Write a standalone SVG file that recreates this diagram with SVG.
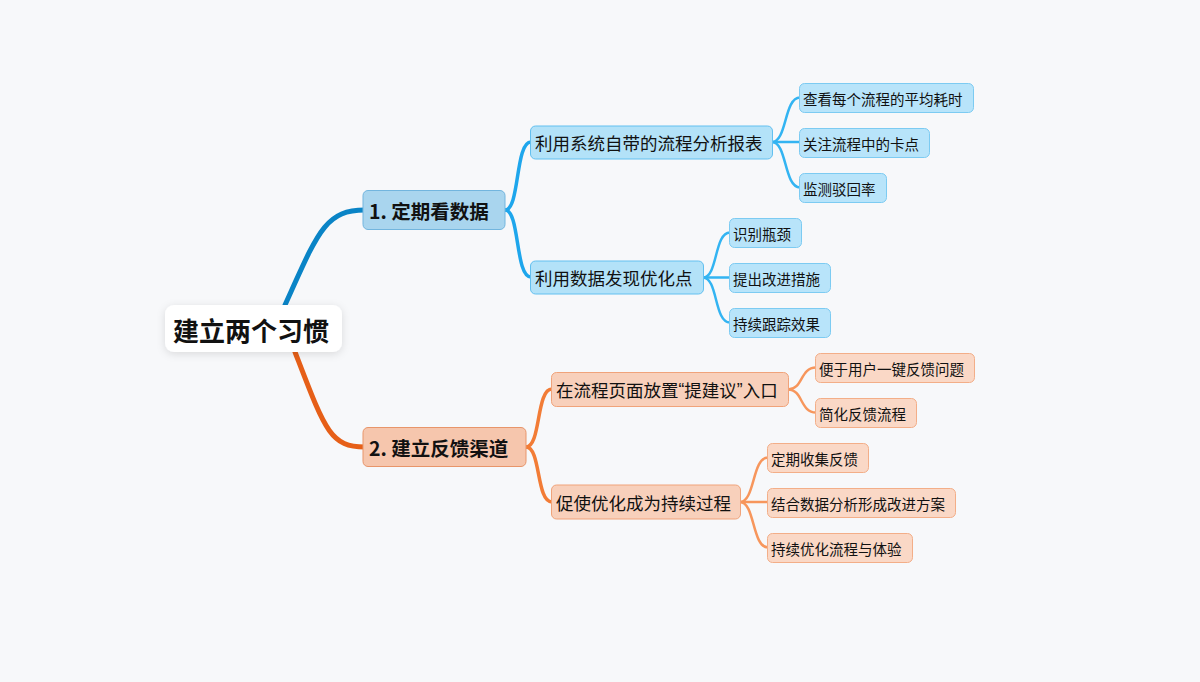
<svg xmlns="http://www.w3.org/2000/svg" width="1200" height="682" viewBox="0 0 1200 682">
<defs>
<filter id="shadow" x="-20%" y="-40%" width="140%" height="180%">
<feDropShadow dx="0" dy="2" stdDeviation="4" flood-color="#000" flood-opacity="0.12"/>
</filter>
<style>
text{font-family:"Noto Sans CJK SC","Noto Sans",sans-serif;fill:#111;dominant-baseline:central}
.q{font-family:"Liberation Sans",sans-serif}
.root text{font-size:26px;font-weight:bold}
.br text{font-size:19.5px;font-weight:bold}
.sub text{font-size:17.5px}
.leaf text{font-size:14.5px}
.b1 rect{fill:#a9d5ee;stroke:#72b5de;stroke-width:1}
.bs rect{fill:#b3e2f8;stroke:#62c0f0;stroke-width:1}
.bl rect{fill:#b8e4fa;stroke:#7ccbf2;stroke-width:1}
.o1 rect{fill:#f6c6ad;stroke:#e8956a;stroke-width:1}
.os rect{fill:#f8d0bb;stroke:#f0a37a;stroke-width:1}
.ol rect{fill:#fad8c6;stroke:#f3ae88;stroke-width:1}
.c path{fill:none;stroke-linecap:round}
.cb0{stroke:#0a84c6;stroke-width:5}
.cb1{stroke:#1ea6ec;stroke-width:3.5}
.cb2{stroke:#33b4f2;stroke-width:2.5}
.co0{stroke:#e65f18;stroke-width:5}
.co1{stroke:#f27c36;stroke-width:3.5}
.co2{stroke:#f7965c;stroke-width:2.5}
</style>
</defs>
<rect width="1200" height="682" fill="#f7f8fa"/>
<g id="connectors" class="c">
<path class="cb0" d="M285 305 C318 232 325 210 365 210"/>
<path class="co0" d="M295 352 C325 430 330 447 365 447"/>
<path class="cb1" d="M505 210 C520 210 515 142 531 142"/>
<path class="cb1" d="M505 210 C520 210 515 277 531 277"/>
<path class="co1" d="M526 447 C541 447 536 389 552 389"/>
<path class="co1" d="M526 447 C541 447 536 502 552 502"/>
<path class="cb2" d="M772 142 C787 142 784 97.5 800 97.5"/>
<path class="cb2" d="M772 142 L800 142"/>
<path class="cb2" d="M772 142 C787 142 784 187.5 800 187.5"/>
<path class="cb2" d="M703 277.5 C718 277.5 714 232.5 730 232.5"/>
<path class="cb2" d="M703 277.5 L730 277.5"/>
<path class="cb2" d="M703 277.5 C718 277.5 714 322.5 730 322.5"/>
<path class="co2" d="M788 389.5 C803 389.5 800 367.5 816 367.5"/>
<path class="co2" d="M788 389.5 C803 389.5 800 412.5 816 412.5"/>
<path class="co2" d="M740 502 C755 502 752 457.5 768 457.5"/>
<path class="co2" d="M740 502 L768 502"/>
<path class="co2" d="M740 502 C755 502 752 547.5 768 547.5"/>
</g>
<g id="root" class="root">
<rect x="165" y="305" width="177" height="47" rx="9" fill="#ffffff" filter="url(#shadow)"/>
<text x="173" y="329">建立两个习惯</text>
</g>
<g id="b1" class="br b1">
<rect x="363" y="190.5" width="142" height="39" rx="5"/>
<text x="369" y="210">1. 定期看数据</text>
</g>
<g id="b2" class="br o1">
<rect x="363" y="427.5" width="163" height="39" rx="5"/>
<text x="369" y="447">2. 建立反馈渠道</text>
</g>
<g id="a1" class="sub bs">
<rect x="530.5" y="126" width="242" height="33" rx="5"/>
<text x="535" y="142.5">利用系统自带的流程分析报表</text>
</g>
<g id="a2" class="sub bs">
<rect x="530.5" y="261" width="173" height="33" rx="5"/>
<text x="535" y="277.5">利用数据发现优化点</text>
</g>
<g id="a1l1" class="leaf bl">
<rect x="799.5" y="83.5" width="174" height="29" rx="5"/>
<text x="803" y="98">查看每个流程的平均耗时</text>
</g>
<g id="a1l2" class="leaf bl">
<rect x="799.5" y="128.5" width="130" height="29" rx="5"/>
<text x="803" y="143">关注流程中的卡点</text>
</g>
<g id="a1l3" class="leaf bl">
<rect x="799.5" y="173.5" width="87" height="29" rx="5"/>
<text x="803" y="188">监测驳回率</text>
</g>
<g id="a2l1" class="leaf bl">
<rect x="729.5" y="218.5" width="72" height="29" rx="5"/>
<text x="733" y="233">识别瓶颈</text>
</g>
<g id="a2l2" class="leaf bl">
<rect x="729.5" y="263.5" width="101" height="29" rx="5"/>
<text x="733" y="278">提出改进措施</text>
</g>
<g id="a2l3" class="leaf bl">
<rect x="729.5" y="308.5" width="101" height="29" rx="5"/>
<text x="733" y="323">持续跟踪效果</text>
</g>
<g id="bb1" class="sub os">
<rect x="551.5" y="372.5" width="237" height="34" rx="5"/>
<text x="556" y="389.5">在流程页面放置<tspan class="q">“</tspan>提建议<tspan class="q">”</tspan>入口</text>
</g>
<g id="bb2" class="sub os">
<rect x="551.5" y="485" width="189" height="34" rx="5"/>
<text x="556" y="502">促使优化成为持续过程</text>
</g>
<g id="b1l1" class="leaf ol">
<rect x="815.5" y="353.5" width="159" height="29" rx="5"/>
<text x="819" y="368">便于用户一键反馈问题</text>
</g>
<g id="b1l2" class="leaf ol">
<rect x="815.5" y="398.5" width="101" height="29" rx="5"/>
<text x="819" y="413">简化反馈流程</text>
</g>
<g id="b2l1" class="leaf ol">
<rect x="767.5" y="443.5" width="101" height="29" rx="5"/>
<text x="771" y="458">定期收集反馈</text>
</g>
<g id="b2l2" class="leaf ol">
<rect x="767.5" y="488.5" width="188" height="29" rx="5"/>
<text x="771" y="503">结合数据分析形成改进方案</text>
</g>
<g id="b2l3" class="leaf ol">
<rect x="767.5" y="533.5" width="145" height="29" rx="5"/>
<text x="771" y="548">持续优化流程与体验</text>
</g>
</svg>
